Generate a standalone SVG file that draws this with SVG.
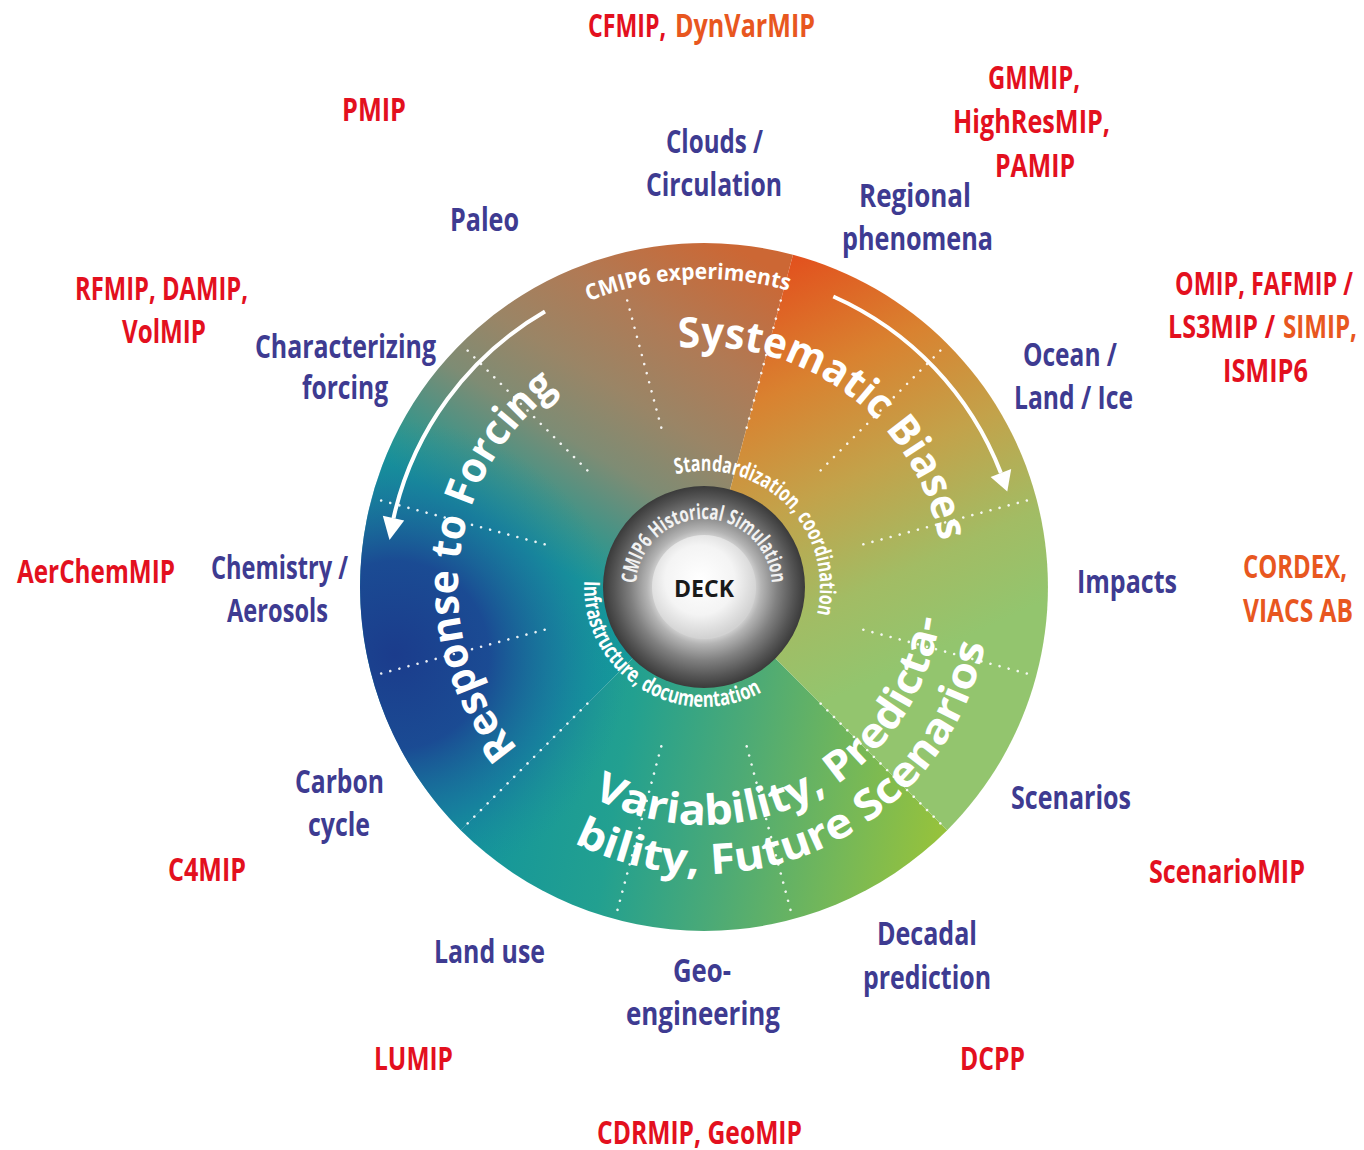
<svg xmlns="http://www.w3.org/2000/svg" width="1364" height="1150" viewBox="0 0 1364 1150">
<defs>
<style>
text{font-family:"Open Sans","Noto Sans","DejaVu Sans",sans-serif;font-weight:700}
.lb{font-size:32px;fill:#3e3b91}
.lr{font-size:32px;fill:#e3101e}
.lo{font-size:32px;fill:#e8571f}
.big{font-size:42px;fill:#ffffff}
.small{font-size:22px;fill:#ffffff}
.hist{font-size:21px;fill:#f2f2f2}
.dots{stroke:#ffffff;stroke-width:2.6;stroke-linecap:round;stroke-dasharray:0 9.4;opacity:.9}
.arrow{stroke:#ffffff;stroke-width:4;fill:none}
.head{fill:#ffffff}
</style>
<linearGradient id="gSys" gradientUnits="userSpaceOnUse" x1="780" y1="250" x2="960" y2="640">
<stop offset="0" stop-color="#e34c1c"/><stop offset=".3" stop-color="#d98230"/><stop offset=".55" stop-color="#c3a24a"/><stop offset=".8" stop-color="#a2bc64"/><stop offset="1" stop-color="#93c56e"/>
</linearGradient>
<linearGradient id="gResp" gradientUnits="userSpaceOnUse" x1="740" y1="250" x2="420" y2="770">
<stop offset="0" stop-color="#cc6734"/><stop offset=".17" stop-color="#b07a55"/><stop offset=".3" stop-color="#9a8566"/><stop offset=".41" stop-color="#7e8c74"/><stop offset=".52" stop-color="#3f9488"/><stop offset=".6" stop-color="#159a9a"/><stop offset="1" stop-color="#12979c"/>
</linearGradient>
<radialGradient id="gBlue" gradientUnits="userSpaceOnUse" cx="395" cy="655" r="235">
<stop offset="0" stop-color="#1b3c8c" stop-opacity="1"/><stop offset=".4" stop-color="#1b4793" stop-opacity=".95"/><stop offset=".7" stop-color="#1a6a9e" stop-opacity=".55"/><stop offset="1" stop-color="#1a8a9c" stop-opacity="0"/>
</radialGradient>
<linearGradient id="gVar" gradientUnits="userSpaceOnUse" x1="480" y1="760" x2="940" y2="840">
<stop offset="0" stop-color="#13959c"/><stop offset=".3" stop-color="#22a090"/><stop offset=".55" stop-color="#4caa76"/><stop offset=".8" stop-color="#76b857"/><stop offset="1" stop-color="#96c23c"/>
</linearGradient>
<radialGradient id="gRing" gradientUnits="userSpaceOnUse" cx="704" cy="587" r="102">
<stop offset=".5" stop-color="#d0d0d0"/><stop offset=".56" stop-color="#b4b4b4"/><stop offset=".72" stop-color="#808080"/><stop offset=".88" stop-color="#555555"/><stop offset="1" stop-color="#383838"/>
</radialGradient>
<radialGradient id="gDisc" gradientUnits="userSpaceOnUse" cx="700" cy="580" r="58">
<stop offset="0" stop-color="#ffffff"/><stop offset=".6" stop-color="#f4f4f4"/><stop offset="1" stop-color="#d2d2d2"/>
</radialGradient>
<clipPath id="cDisc"><circle cx="704" cy="587" r="344"/></clipPath>
<path id="pHist" d="M636,587 A68,68 0 0 1 772,587"/>
<path id="pStd" d="M675.9,474.4 A116,116 0 0 1 816.6,615.1"/>
<path id="pInfra" d="M584.2,580.7 A120,120 0 0 0 764,690.9"/>
<path id="pExp" d="M588.6,301.4 A308,308 0 0 1 788.9,290.9"/>
<path id="pSys" d="M678.9,348.3 A240,240 0 0 1 939.6,541.2"/>
<path id="pResp" d="M518.3,748.4 A246,246 0 0 1 559.4,388.0"/>
<path id="pVar1" d="M592.3,797.1 A238,238 0 0 0 940.2,616.0"/>
<path id="pVar2" d="M573.7,842.7 A287,287 0 0 0 985.7,641.8"/>
</defs>
<rect width="1364" height="1150" fill="#ffffff"/>

<g id="wheel">
<path id="sector-response" d="M704,587 L460.8,830.2 A344,344 0 0 1 793.0,254.7 Z" fill="url(#gResp)"/>
<path id="sector-variability" d="M704,587 L947.2,830.2 A344,344 0 0 1 460.8,830.2 Z" fill="url(#gVar)"/>
<circle cx="395" cy="655" r="235" fill="url(#gBlue)" clip-path="url(#cDisc)"/>
<path id="sector-systematic" d="M704,587 L793.0,254.7 A344,344 0 0 1 947.2,830.2 Z" fill="url(#gSys)"/>
</g>

<g id="dividers">
<line class="dots" x1="869" y1="587" x2="1042" y2="587" transform="rotate(15 704 587)"/>
<line class="dots" x1="869" y1="587" x2="1042" y2="587" transform="rotate(45 704 587)"/>
<line class="dots" x1="869" y1="587" x2="1042" y2="587" transform="rotate(75 704 587)"/>
<line class="dots" x1="869" y1="587" x2="1042" y2="587" transform="rotate(105 704 587)"/>
<line class="dots" x1="869" y1="587" x2="1042" y2="587" transform="rotate(135 704 587)"/>
<line class="dots" x1="869" y1="587" x2="1042" y2="587" transform="rotate(165 704 587)"/>
<line class="dots" x1="869" y1="587" x2="1042" y2="587" transform="rotate(195 704 587)"/>
<line class="dots" x1="869" y1="587" x2="1042" y2="587" transform="rotate(225 704 587)"/>
<line class="dots" x1="869" y1="587" x2="1004" y2="587" transform="rotate(255 704 587)"/>
<line class="dots" x1="869" y1="587" x2="1004" y2="587" transform="rotate(285 704 587)"/>
<line class="dots" x1="869" y1="587" x2="1042" y2="587" transform="rotate(315 704 587)"/>
<line class="dots" x1="869" y1="587" x2="1042" y2="587" transform="rotate(345 704 587)"/>
</g>

<g id="arrows">
<path class="arrow" d="M545,311.6 A318,318 0 0 0 393.5,518.2"/>
<polygon class="head" points="382.8,515.8 404.2,520.6 389.5,540"/>
<path class="arrow" d="M833.3,296.5 A318,318 0 0 1 1000.9,473"/>
<polygon class="head" points="990.6,477 1011.2,469.1 1007.3,491.4"/>
</g>

<g id="ring-texts">
<text class="small"><textPath href="#pExp" textLength="204" lengthAdjust="spacingAndGlyphs">CMIP6 experiments</textPath></text>
<text class="big"><textPath href="#pSys" textLength="356" lengthAdjust="spacingAndGlyphs">Systematic Biases</textPath></text>
<text class="big"><textPath href="#pResp" textLength="405" lengthAdjust="spacingAndGlyphs">Response to Forcing</textPath></text>
<text class="big"><textPath href="#pVar1" textLength="458" lengthAdjust="spacingAndGlyphs">Variability, Predicta-</textPath></text>
<text class="big"><textPath href="#pVar2" textLength="528" lengthAdjust="spacingAndGlyphs">bility, Future Scenarios</textPath></text>
<text class="small"><textPath href="#pStd" textLength="238" lengthAdjust="spacingAndGlyphs">Standardization, coordination</textPath></text>
<text class="small"><textPath href="#pInfra" textLength="255" lengthAdjust="spacingAndGlyphs">Infrastructure, documentation</textPath></text>
</g>

<g id="node-deck">
<circle cx="704" cy="587" r="101" fill="url(#gRing)"/>
<circle cx="704" cy="587" r="52" fill="url(#gDisc)"/>
<text class="hist"><textPath href="#pHist" startOffset="3.5" textLength="206" lengthAdjust="spacingAndGlyphs">CMIP6 Historical Simulation</textPath></text>
<text x="704" y="597" text-anchor="middle" font-size="24" fill="#1a1a1a" textLength="60" lengthAdjust="spacingAndGlyphs">DECK</text>
</g>

<g id="node-clouds"><text class="lb" x="666" y="153" textLength="97" lengthAdjust="spacingAndGlyphs">Clouds /</text><text class="lb" x="646" y="196" textLength="136" lengthAdjust="spacingAndGlyphs">Circulation</text></g>
<g id="node-paleo"><text class="lb" x="450" y="231" textLength="69" lengthAdjust="spacingAndGlyphs">Paleo</text></g>
<g id="node-regional"><text class="lb" x="859" y="207" textLength="112" lengthAdjust="spacingAndGlyphs">Regional</text><text class="lb" x="842" y="250" textLength="151" lengthAdjust="spacingAndGlyphs">phenomena</text></g>
<g id="node-forcing"><text class="lb" x="255" y="358" textLength="181" lengthAdjust="spacingAndGlyphs">Characterizing</text><text class="lb" x="302" y="399" textLength="86" lengthAdjust="spacingAndGlyphs">forcing</text></g>
<g id="node-ocean"><text class="lb" x="1023" y="366" textLength="94" lengthAdjust="spacingAndGlyphs">Ocean /</text><text class="lb" x="1014" y="409" textLength="119" lengthAdjust="spacingAndGlyphs">Land / Ice</text></g>
<g id="node-chemistry"><text class="lb" x="211" y="579" textLength="137" lengthAdjust="spacingAndGlyphs">Chemistry /</text><text class="lb" x="227" y="622" textLength="101" lengthAdjust="spacingAndGlyphs">Aerosols</text></g>
<g id="node-impacts"><text class="lb" x="1077" y="593" textLength="100" lengthAdjust="spacingAndGlyphs">Impacts</text></g>
<g id="node-carbon"><text class="lb" x="295" y="793" textLength="89" lengthAdjust="spacingAndGlyphs">Carbon</text><text class="lb" x="308" y="836" textLength="62" lengthAdjust="spacingAndGlyphs">cycle</text></g>
<g id="node-scenarios"><text class="lb" x="1011" y="809" textLength="120" lengthAdjust="spacingAndGlyphs">Scenarios</text></g>
<g id="node-landuse"><text class="lb" x="434" y="963" textLength="111" lengthAdjust="spacingAndGlyphs">Land use</text></g>
<g id="node-geo"><text class="lb" x="673" y="982" textLength="58" lengthAdjust="spacingAndGlyphs">Geo-</text><text class="lb" x="626" y="1025" textLength="154" lengthAdjust="spacingAndGlyphs">engineering</text></g>
<g id="node-decadal"><text class="lb" x="877" y="945" textLength="100" lengthAdjust="spacingAndGlyphs">Decadal</text><text class="lb" x="863" y="989" textLength="128" lengthAdjust="spacingAndGlyphs">prediction</text></g>

<g id="mip-cfmip"><text class="lr" x="588" y="37" textLength="78" lengthAdjust="spacingAndGlyphs">CFMIP,</text><text class="lo" x="675" y="37" textLength="140" lengthAdjust="spacingAndGlyphs">DynVarMIP</text></g>
<g id="mip-pmip"><text class="lr" x="342" y="121" textLength="64" lengthAdjust="spacingAndGlyphs">PMIP</text></g>
<g id="mip-gmmip"><text class="lr" x="988" y="89" textLength="92" lengthAdjust="spacingAndGlyphs">GMMIP,</text><text class="lr" x="953" y="133" textLength="157" lengthAdjust="spacingAndGlyphs">HighResMIP,</text><text class="lr" x="995" y="177" textLength="80" lengthAdjust="spacingAndGlyphs">PAMIP</text></g>
<g id="mip-rfmip"><text class="lr" x="75" y="300" textLength="173" lengthAdjust="spacingAndGlyphs">RFMIP, DAMIP,</text><text class="lr" x="122" y="343" textLength="84" lengthAdjust="spacingAndGlyphs">VolMIP</text></g>
<g id="mip-omip"><text class="lr" x="1175" y="295" textLength="178" lengthAdjust="spacingAndGlyphs">OMIP, FAFMIP /</text><text class="lr" x="1168" y="338" textLength="107" lengthAdjust="spacingAndGlyphs">LS3MIP /</text><text class="lo" x="1283" y="338" textLength="74" lengthAdjust="spacingAndGlyphs">SIMIP,</text><text class="lr" x="1223" y="382" textLength="85" lengthAdjust="spacingAndGlyphs">ISMIP6</text></g>
<g id="mip-aerchem"><text class="lr" x="17" y="583" textLength="158" lengthAdjust="spacingAndGlyphs">AerChemMIP</text></g>
<g id="mip-cordex"><text class="lo" x="1243" y="578" textLength="104" lengthAdjust="spacingAndGlyphs">CORDEX,</text><text class="lo" x="1243" y="622" textLength="110" lengthAdjust="spacingAndGlyphs">VIACS AB</text></g>
<g id="mip-scenariomip"><text class="lr" x="1149" y="883" textLength="156" lengthAdjust="spacingAndGlyphs">ScenarioMIP</text></g>
<g id="mip-c4mip"><text class="lr" x="168" y="881" textLength="78" lengthAdjust="spacingAndGlyphs">C4MIP</text></g>
<g id="mip-dcpp"><text class="lr" x="960" y="1070" textLength="65" lengthAdjust="spacingAndGlyphs">DCPP</text></g>
<g id="mip-lumip"><text class="lr" x="374" y="1070" textLength="79" lengthAdjust="spacingAndGlyphs">LUMIP</text></g>
<g id="mip-cdrmip"><text class="lr" x="597" y="1144" textLength="205" lengthAdjust="spacingAndGlyphs">CDRMIP, GeoMIP</text></g>
</svg>
